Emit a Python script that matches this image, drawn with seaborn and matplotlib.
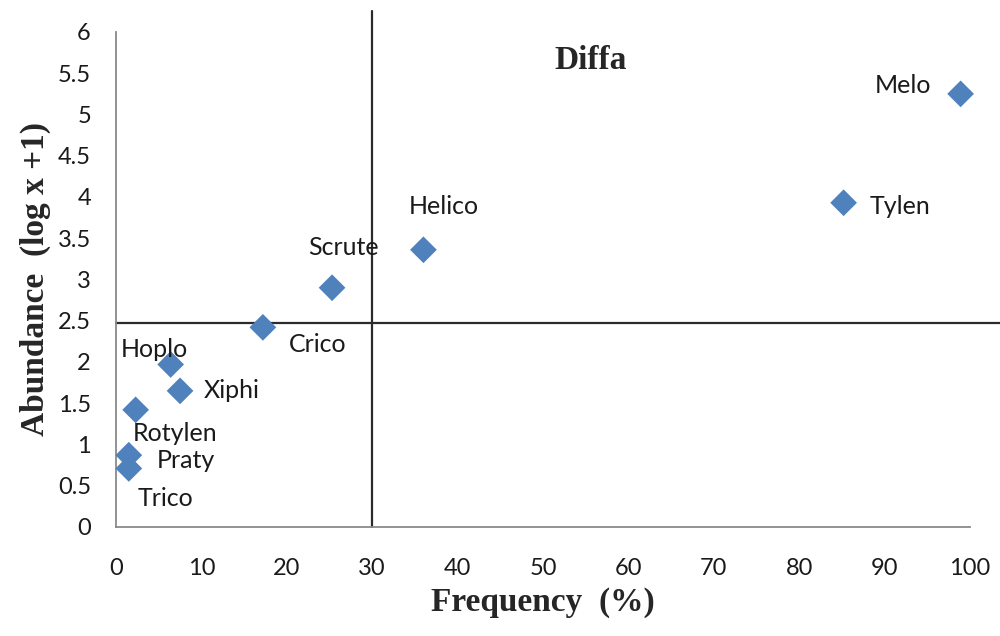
import pandas as pd
import matplotlib
matplotlib.use("Agg")
import matplotlib.pyplot as plt
import seaborn as sns

# Nematode genera: frequency (%) vs abundance (log x + 1), Diffa
genera = ['Melo', 'Tylen', 'Helico', 'Scrute', 'Crico', 'Hoplo',
          'Xiphi', 'Rotylen', 'Praty', 'Trico']
frequency = [98.9, 85.2, 36.0, 25.3, 17.2, 6.4, 7.5, 2.3, 1.5, 1.5]
abundance = [5.25, 3.93, 3.36, 2.90, 2.42, 1.97, 1.65, 1.42, 0.87, 0.71]

# mean thresholds splitting the quadrants
freq_cut = 30
abund_cut = 2.47

x_ticks = list(range(0, 101, 10))
y_ticks = [0, 0.5, 1, 1.5, 2, 2.5, 3, 3.5, 4, 4.5, 5, 5.5, 6]
y_tick_labels = ['0', '0.5', '1', '1.5', '2', '2.5', '3', '3.5', '4', '4.5', '5', '5.5', '6']

# label offsets in points (dx, dy, ha)
label_pos = {
    'Melo': (-21, 6, 'right'),
    'Tylen': (19, -3, 'left'),
    'Helico': (15, 31, 'center'),
    'Scrute': (8, 29, 'center'),
    'Crico': (19, -12, 'left'),
    'Hoplo': (-12, 11, 'center'),
    'Xiphi': (17, 0, 'left'),
    'Rotylen': (-2, -17, 'left'),
    'Praty': (20, -4, 'left'),
    'Trico': (6, -22, 'left'),
}

df = pd.DataFrame({'genus': genera, 'freq': frequency, 'abund': abundance})

sns.set_style('white')
plt.rcParams['font.family'] = ['Lato', 'DejaVu Sans']

fig = plt.figure(figsize=(10, 6.36), dpi=100)
ax = fig.add_axes([0.116, 0.1714, 0.854, 0.7783])

sns.scatterplot(data=df, x='freq', y='abund', marker='D', s=185,
                color='#4F81BD', edgecolor='none', ax=ax, zorder=3, clip_on=False)

for name, fx, ay in zip(genera, frequency, abundance):
    dx, dy, ha = label_pos[name]
    ax.annotate(name, (fx, ay), xytext=(dx, dy), textcoords='offset points',
                ha=ha, va='center', fontsize=18, color='#1a1a1a')

ax.axvline(freq_cut, ymin=0, ymax=1.043, color='#2b2b2b', lw=1.6, clip_on=False, zorder=2)
ax.axhline(abund_cut, xmin=0, xmax=1.04, color='#2b2b2b', lw=1.6, clip_on=False, zorder=2)

ax.set_xlim(0, 100)
ax.set_ylim(0, 6)
ax.set_xticks(x_ticks)
ax.set_yticks(y_ticks)
ax.set_yticklabels(y_tick_labels)

for side in ['top', 'right']:
    ax.spines[side].set_visible(False)
for side in ['left', 'bottom']:
    ax.spines[side].set_color('#8a8a8a')
    ax.spines[side].set_linewidth(1.3)

ax.tick_params(axis='both', which='major', direction='out', color='#8a8a8a',
               width=1.3, labelsize=17, labelcolor='#1a1a1a')
ax.tick_params(axis='y', length=7, pad=11)
ax.tick_params(axis='x', length=6, pad=16)

ax.set_xlabel('Frequency  (%)', family='Liberation Serif', fontweight='bold',
              fontsize=24, labelpad=6)
ax.set_ylabel('Abundance  (log x +1)', family='Liberation Serif', fontweight='bold',
              fontsize=24, labelpad=5)

ax.text(0.556, 0.943, 'Diffa', transform=ax.transAxes, ha='center', va='center',
        family='Liberation Serif', fontweight='bold', fontsize=24)

fig.savefig('out.png', dpi=100, facecolor='white')
